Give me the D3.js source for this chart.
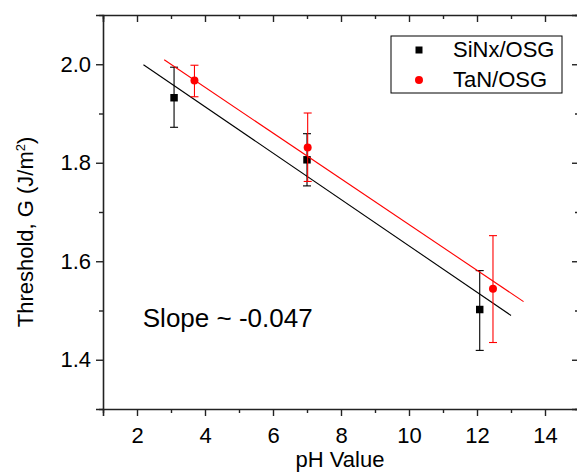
<!DOCTYPE html>
<html>
<head>
<meta charset="utf-8">
<script src="https://cdn.jsdelivr.net/npm/d3@7"></script>
<style>
  body { margin: 0; background: #fff; }
  svg { display: block; font-family: "Liberation Sans", Arial, sans-serif; }
  .domain { stroke: #222; stroke-width: 1.6; }
  .tick line { stroke: #222; stroke-width: 1.4; }
  .tick text { fill: #000; font-size: 22px; }
</style>
</head>
<body>
<script>
// data
var phSiNx = [3.09, 7.0, 12.08];
var gSiNx = [1.932, 1.806, 1.502];
var errLoSiNx = [1.872, 1.753, 1.419];
var errHiSiNx = [1.994, 1.859, 1.581];

var phTaN = [3.69, 7.02, 12.47];
var gTaN = [1.967, 1.831, 1.544];
var errLoTaN = [1.934, 1.762, 1.435];
var errHiTaN = [1.998, 1.901, 1.652];

// linear fit end points
var fitSiNx = [[2.19, 1.999], [13.0, 1.490]];
var fitTaN = [[2.80, 2.009], [13.37, 1.518]];

var xMajor = [2, 4, 6, 8, 10, 12, 14];
var xMinor = [1, 3, 5, 7, 9, 11, 13, 15];
var yMajor = [1.4, 1.6, 1.8, 2.0];
var yMinor = [1.3, 1.5, 1.7, 1.9, 2.1];

var margin = {top: 15, right: 0, bottom: 63, left: 103},
    width = 476,
    height = 394;

var svg = d3.select("body").append("svg")
    .attr("width", 577)
    .attr("height", 472)
  .append("g")
    .attr("transform", "translate(" + margin.left + "," + margin.top + ")");

var x = d3.scaleLinear().domain([1, 15]).range([0, width]);
var y = d3.scaleLinear().domain([1.3, 2.1]).range([height, 0]);

// axes: bottom/left ticks outside, top/right ticks inside
svg.append("g")
    .attr("transform", "translate(0," + height + ")")
    .call(d3.axisBottom(x).tickValues(xMajor).tickSize(7).tickPadding(11).tickFormat(d3.format("d")));
svg.append("g")
    .attr("transform", "translate(0," + height + ")")
    .call(d3.axisBottom(x).tickValues(xMinor).tickSize(4).tickFormat(""))
    .select(".domain").remove();

svg.append("g")
    .call(d3.axisLeft(y).tickValues(yMajor).tickSize(7).tickPadding(5).tickFormat(d3.format(".1f")));
svg.append("g")
    .call(d3.axisLeft(y).tickValues(yMinor).tickSize(4).tickFormat(""))
    .select(".domain").remove();

svg.append("g")
    .call(d3.axisBottom(x).tickValues(xMajor).tickSize(7).tickFormat(""));
svg.append("g")
    .call(d3.axisBottom(x).tickValues(xMinor).tickSize(4).tickFormat(""))
    .select(".domain").remove();

svg.append("g")
    .attr("transform", "translate(" + width + ",0)")
    .call(d3.axisLeft(y).tickValues(yMajor).tickSize(7).tickFormat(""));
svg.append("g")
    .attr("transform", "translate(" + width + ",0)")
    .call(d3.axisLeft(y).tickValues(yMinor).tickSize(4).tickFormat(""))
    .select(".domain").remove();

var line = d3.line()
    .x(function(d) { return x(d[0]); })
    .y(function(d) { return y(d[1]); });

function series(ph, g, lo, hi, fit, color, shape) {
    svg.append("path")
        .datum(fit)
        .attr("fill", "none")
        .attr("stroke", color)
        .attr("stroke-width", 1.1)
        .attr("d", line);

    var pts = ph.map(function(v, i) {
        return {ph: v, g: g[i], lo: lo[i], hi: hi[i]};
    });

    var eb = svg.append("g").selectAll("g")
        .data(pts)
        .enter()
        .append("g")
        .attr("stroke", color)
        .attr("stroke-width", 1.1);
    eb.append("line")
        .attr("x1", function(d) { return x(d.ph); })
        .attr("x2", function(d) { return x(d.ph); })
        .attr("y1", function(d) { return y(d.lo); })
        .attr("y2", function(d) { return y(d.hi); });
    eb.append("line")
        .attr("x1", function(d) { return x(d.ph) - 4; })
        .attr("x2", function(d) { return x(d.ph) + 4; })
        .attr("y1", function(d) { return y(d.lo); })
        .attr("y2", function(d) { return y(d.lo); });
    eb.append("line")
        .attr("x1", function(d) { return x(d.ph) - 4; })
        .attr("x2", function(d) { return x(d.ph) + 4; })
        .attr("y1", function(d) { return y(d.hi); })
        .attr("y2", function(d) { return y(d.hi); });

    svg.append("g").selectAll("path")
        .data(pts)
        .enter()
        .append("path")
        .attr("fill", color)
        .attr("transform", function(d) { return "translate(" + x(d.ph) + "," + y(d.g) + ")"; })
        .attr("d", d3.symbol().type(shape).size(shape === d3.symbolSquare ? 56 : 50));
}

series(phSiNx, gSiNx, errLoSiNx, errHiSiNx, fitSiNx, "#000", d3.symbolSquare);
series(phTaN, gTaN, errLoTaN, errHiTaN, fitTaN, "#ff0000", d3.symbolCircle);

// legend
var legend = svg.append("g").attr("transform", "translate(288,21)");
legend.append("rect")
    .attr("width", 171)
    .attr("height", 57)
    .attr("fill", "#fff")
    .attr("stroke", "#000")
    .attr("stroke-width", 1);
legend.append("path")
    .attr("transform", "translate(28,14)")
    .attr("d", d3.symbol().type(d3.symbolSquare).size(49));
legend.append("path")
    .attr("transform", "translate(28,44)")
    .attr("fill", "#ff0000")
    .attr("d", d3.symbol().type(d3.symbolCircle).size(50));
legend.append("text")
    .attr("x", 62).attr("y", 21)
    .style("font-size", "22px")
    .text("SiNx/OSG");
legend.append("text")
    .attr("x", 62).attr("y", 51)
    .style("font-size", "22px")
    .text("TaN/OSG");

// annotation
svg.append("text")
    .attr("x", x(2.17))
    .attr("y", 312)
    .style("font-size", "26px")
    .text("Slope ~ -0.047");

// axis titles
svg.append("text")
    .attr("x", width / 2 - 1)
    .attr("y", 452)
    .attr("text-anchor", "middle")
    .style("font-size", "22px")
    .text("pH Value");

var yt = svg.append("text")
    .attr("transform", "translate(-70,217) rotate(-90)")
    .attr("text-anchor", "middle")
    .style("font-size", "22px");
yt.append("tspan").text("Threshold, G (J/m");
yt.append("tspan").attr("dy", -8).style("font-size", "13px").text("2");
yt.append("tspan").attr("dy", 8).text(")");
</script>
</body>
</html>
